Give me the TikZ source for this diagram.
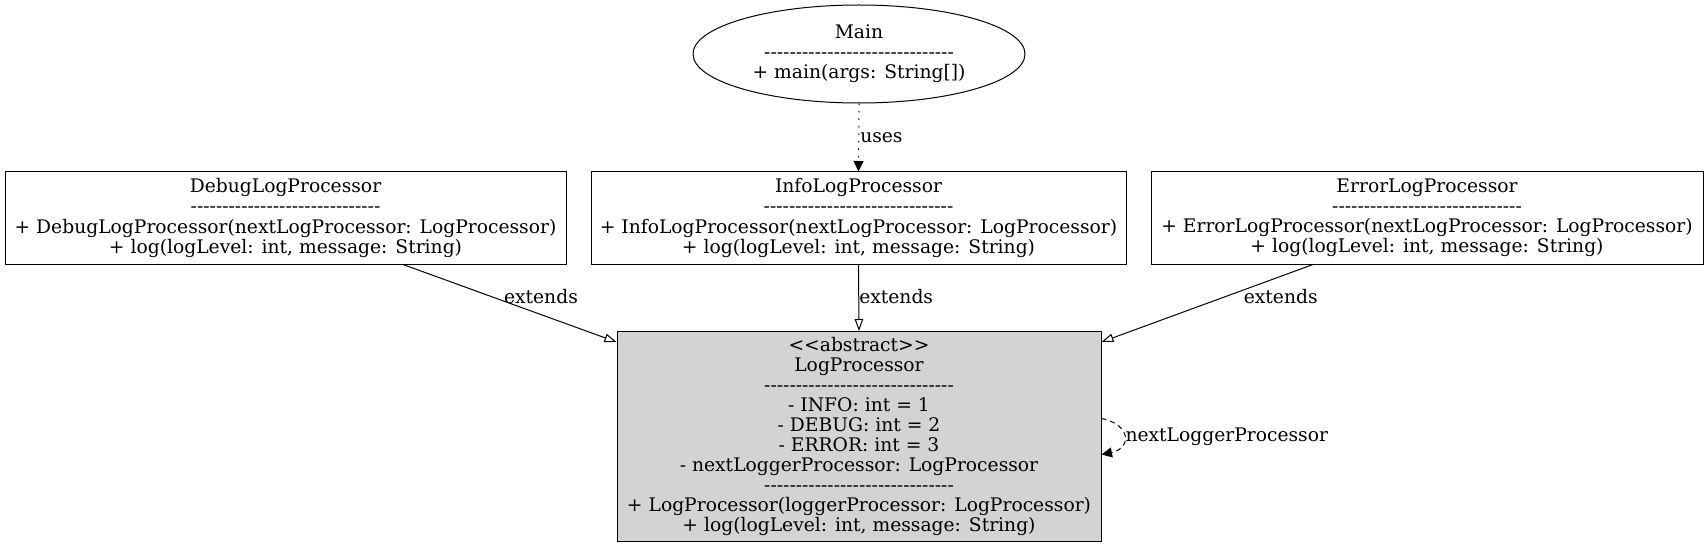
\documentclass[tikz,border=0pt]{standalone}
\usepackage{fontspec}
\setmainfont{DejaVu Serif}
\usetikzlibrary{arrows.meta,shapes.geometric,calc}
\definecolor{lpgray}{HTML}{D3D3D3}
\newcommand{\dd}{-{}-{}-{}-{}-{}}
\newcommand{\dashes}{\dd\dd\dd\dd\dd\dd}
\begin{document}
\begin{tikzpicture}[x=1pt,y=-1pt,
  every node/.style={font=\fontsize{18.7}{20.1}\selectfont},
  cls/.style={draw, line width=1pt, rectangle, align=center, inner sep=0pt},
  ext/.style={line width=1pt, -{Triangle[open,length=12pt,width=8.5pt]}},
  solidtip/.style={-{Triangle[length=10.5pt,width=10pt]}},
  lbl/.style={inner sep=0pt, anchor=west}]
\useasboundingbox (0,0) rectangle (1708,548);
\node[draw, ellipse, line width=1pt, minimum width=332pt, minimum height=98pt, inner sep=0pt, align=center] (main) at (859,54) {Main\\\dashes\\+ main(args: String[])};
\node[cls, minimum width=561pt, minimum height=92pt] (debug) at (285.5,218) {DebugLogProcessor\\\dashes\\+ DebugLogProcessor(nextLogProcessor: LogProcessor)\\+ log(logLevel: int, message: String)};
\node[cls, minimum width=535pt, minimum height=92pt] (info) at (858.5,218) {InfoLogProcessor\\\dashes\\+ InfoLogProcessor(nextLogProcessor: LogProcessor)\\+ log(logLevel: int, message: String)};
\node[cls, minimum width=552pt, minimum height=92pt] (error) at (1427,218) {ErrorLogProcessor\\\dashes\\+ ErrorLogProcessor(nextLogProcessor: LogProcessor)\\+ log(logLevel: int, message: String)};
\node[cls, fill=lpgray, minimum width=484pt, minimum height=210pt] (lp) at (859,436.5) {<{}<abstract>{}>\\LogProcessor\\\dashes\\- INFO: int = 1\\- DEBUG: int = 2\\- ERROR: int = 3\\- nextLoggerProcessor: LogProcessor\\\dashes\\+ LogProcessor(loggerProcessor: LogProcessor)\\+ log(logLevel: int, message: String)};
\draw[line width=1pt, dash pattern=on 1.5pt off 6pt, solidtip] (main.south) -- node[lbl, pos=0.5, xshift=1pt]{uses} (info.north);
\draw[ext] ([xshift=117.5pt]debug.south) -- node[lbl, pos=0.41, xshift=13pt]{extends} ([yshift=-11pt]lp.north west);
\draw[ext] (info.south) -- node[lbl, pos=0.485]{extends} (lp.north);
\draw[ext] ([xshift=-114pt]error.south) -- node[lbl, pos=0.41, xshift=17pt]{extends} ([yshift=-11pt]lp.north east);
\draw[line width=1pt, dash pattern=on 5pt off 4pt, solidtip] ([yshift=18pt]lp.east) .. controls +(30pt,-6pt) and +(30pt,6pt) .. node[lbl, pos=0.5, xshift=1pt]{nextLoggerProcessor} ([yshift=-18pt]lp.east);
\end{tikzpicture}
\end{document}
